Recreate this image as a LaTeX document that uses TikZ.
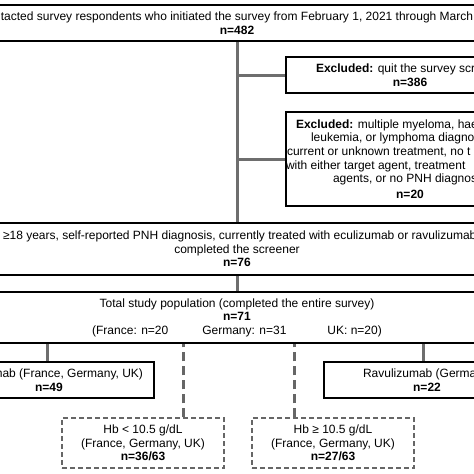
\documentclass[tikz,border=0pt]{standalone}
\usepackage{fontspec}
\setmainfont{Liberation Sans}
\usetikzlibrary{positioning}
\definecolor{flowGrey}{HTML}{6E6E6E}
\definecolor{dashGrey}{HTML}{666666}
\tikzset{
  % boxes and links of the patient flow chart
  every picture/.append style = {line width=0.7pt},
  box/.style      = {draw=black, line width=1.8pt, inner sep=0, align=center,
                     font=\fontsize{12}{13.6}\selectfont},
  dashbox/.style  = {box, draw=dashGrey, line width=1.4pt, dash pattern=on 5pt off 3pt},
  trunk/.style    = {flowGrey, line width=3pt},
  dashlink/.style = {dashGrey, line width=3pt, dash pattern=on 9pt off 5pt},
}
\begin{document}
\begin{tikzpicture}[x=1pt,y=-1pt]
  \useasboundingbox (0,0) rectangle (474,474);
  \clip (0,0) rectangle (474,474);
  % --- screening ---------------------------------------------------------
  \node[box, minimum width=540, minimum height=36] (screen) at (237,23)
    {tacted survey respondents who initiated the survey from February 1, 2021 through March\\
     \textbf{n=482}};
  \node[box, minimum width=248, minimum height=36] (excl1) at (410,75)
    {\makebox[188pt][l]{\textbf{Excluded:} quit the survey scre}\\
     \textbf{n=386}};
  \node[box, minimum width=248, minimum height=94] (excl2) at (410,159)
    {\makebox[228pt][l]{\textbf{Excluded:} multiple myeloma, hae}\\
     \makebox[198pt][l]{leukemia, or lymphoma diagno}\\
     \makebox[246pt][l]{current or unknown treatment, no t}\\
     \makebox[248pt][l]{with either target agent, treatment}\\
     \makebox[154pt][l]{agents, or no PNH diagnos}\\[2pt]
     \textbf{n=20}};
  \node[box, minimum width=540, minimum height=52] (elig) at (237,249)
    {\makebox[468pt][l]{≥18 years, self-reported PNH diagnosis, currently treated with eculizumab or ravulizumab}\\
     completed the screener\\
     \textbf{n=76}};
  \draw[trunk] (screen.south) -- (elig.north);
  \draw[trunk] (screen.south |- excl1.west) -- (excl1.west);
  \draw[trunk] (screen.south |- excl2.west) -- (excl2.west);
  % --- study population --------------------------------------------------
  \node[box, minimum width=540, minimum height=51] (total) at (237,317.5)
    {Total study population (completed the entire survey)\\
     \textbf{n=71}\\
     (France: n=20\hspace*{34pt}Germany: n=31\hspace*{41pt}UK: n=20)};
  \draw[trunk] (elig.south) -- (total.north);
  \node[box, minimum width=210, minimum height=36] (ecu) at (49,380)
    {\makebox[188pt][r]{mab (France, Germany, UK)}\\
     \textbf{n=49}};
  \node[box, minimum width=206, minimum height=36] (rav) at (427,380)
    {\makebox[128pt][l]{Ravulizumab (Germa}\\
     \textbf{n=22}};
  \draw[trunk] ([xshift=-2pt]ecu.north) -- ([xshift=-2pt]ecu.north |- total.south);
  \draw[trunk] ([xshift=-4pt]rav.north) -- ([xshift=-4pt]rav.north |- total.south);
  % --- haemoglobin subgroups ---------------------------------------------
  \node[dashbox, minimum width=162, minimum height=50] (hblow) at (143,443)
    {Hb < 10.5 g/dL\\
     (France, Germany, UK)\\
     \textbf{n=36/63}};
  \node[dashbox, minimum width=162, minimum height=50] (hbhigh) at (333,443)
    {Hb ≥ 10.5 g/dL\\
     (France, Germany, UK)\\
     \textbf{n=27/63}};
  \draw[dashlink] ([xshift=40pt]hblow.north) -- ([xshift=40pt]hblow.north |- total.south);
  \draw[dashlink] ([xshift=-39pt]hbhigh.north) -- ([xshift=-39pt]hbhigh.north |- total.south);
\end{tikzpicture}
\end{document}
